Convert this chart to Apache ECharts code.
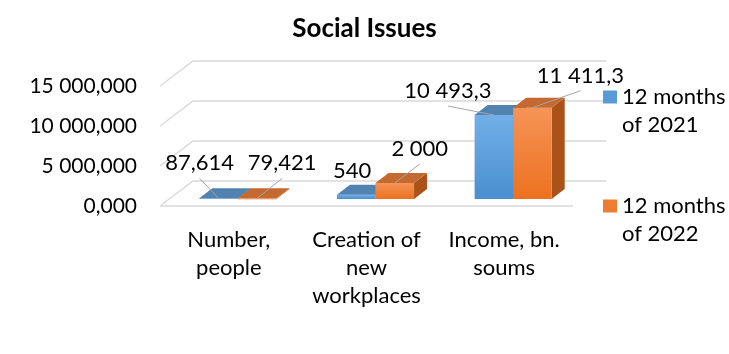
<!DOCTYPE html>
<html><head><meta charset="utf-8">
<script src="https://cdn.jsdelivr.net/npm/echarts@6/dist/echarts.min.js"></script>
<style>html,body{margin:0;padding:0;background:#fff}#c{width:729px;height:354px}</style>
</head><body><div id="c"></div>
<script>
// ---- data ----
const categories = ['Number,\npeople', 'Creation of\nnew\nworkplaces', 'Income, bn.\nsoums'];
const seriesNames = ['12 months of 2021', '12 months of 2022'];
const values2021 = [87.614, 540, 10493.3];
const values2022 = [79.421, 2000, 11411.3];
const yTicks = [0, 5000, 10000, 15000];
const yTickLabels = ['0,000', '5 000,000', '10 000,000', '15 000,000'];

// ---- style / geometry ----
const FONT = 'Lato';
const FS = 22;
const WALL = [33, -25];   // floor depth (px)
const PLANE = [9, -7];    // bar front plane offset from floor front edge
const DEPTH = [13, -10];  // bar depth
const BAR_FRAC = 0.28;
const labelOffsets = [[[-19,-35],[-4,-24],[-46,-24]], [[25,-35],[25,-34],[48,-32]]];
const colors = [
  {front: ['#72afe7', '#4a8fd0'], top: '#5282b0', side: '#3f6f9e', legend: '#5b9bd5'},
  {front: ['#f69457', '#ec711f'], top: '#c4692f', side: '#aa5218', legend: '#ed7d31'}
];

function fmtNum(v) {
  const parts = String(v).split('.');
  const ip = parts[0].replace(/\B(?=(\d{3})+(?!\d))/g, ' ');
  return parts.length > 1 ? ip + ',' + parts[1] : ip;
}

function barRenderer(si) {
  return function (params, api) {
    const cat = api.value(0), v = api.value(1);
    const base = api.coord([cat, 0]);
    const topP = api.coord([cat, v]);
    const cw = api.size([1, 0])[0];
    const bw = cw * BAR_FRAC;
    const cx = base[0] + PLANE[0];
    const xl = si === 0 ? cx - bw : cx;
    const xr = xl + bw;
    const yb = base[1] + PLANE[1];
    const yt = topP[1] + PLANE[1];
    const c = colors[si];
    const children = [
      {type: 'polygon', shape: {points: [[xr, yt], [xr + DEPTH[0], yt + DEPTH[1]], [xr + DEPTH[0], yb + DEPTH[1]], [xr, yb]]},
        style: {fill: c.side}},
      {type: 'rect', shape: {x: xl, y: yt, width: bw, height: Math.max(yb - yt, 0.8)},
        style: {fill: new echarts.graphic.LinearGradient(0, 0, 0, 1, [{offset: 0, color: c.front[0]}, {offset: 1, color: c.front[1]}])}},
      {type: 'polygon', shape: {points: [[xl, yt], [xr, yt], [xr + DEPTH[0], yt + DEPTH[1]], [xl + DEPTH[0], yt + DEPTH[1]]]},
        style: {fill: c.top}}
    ];
    const off = labelOffsets[si][params.dataIndex];
    const fx = (xl + xr) / 2;
    const lx = fx + off[0], ly = yt + off[1];
    const sx = lx, sy = ly + 15;
    if (Math.hypot(fx - sx, yt - sy) > 14) {
      children.push({type: 'line', shape: {x1: sx, y1: sy, x2: fx, y2: yt}, style: {stroke: '#a6a6a6', lineWidth: 1}, z2: 10});
    }
    children.push({type: 'text', z2: 20, style: {text: fmtNum(v), x: lx, y: ly, align: 'center', verticalAlign: 'middle',
      fill: '#000', font: FS + 'px ' + FONT}});
    return {type: 'group', children: children};
  };
}

function gridRenderer(params, api) {
  const cs = params.coordSys;
  const val = api.value(1);
  const y = api.coord([0, val])[1];
  const x0 = cs.x, x1 = cs.x + cs.width;
  const children = [{type: 'polyline', shape: {points: [[x0, y], [x0 + WALL[0], y + WALL[1]], [x1 + WALL[0], y + WALL[1]]]},
    style: {stroke: '#d9d9d9', lineWidth: 1.3, fill: null}}];
  if (val === 0) {
    children.push({type: 'line', shape: {x1: x0, y1: y, x2: x1, y2: y}, style: {stroke: '#d9d9d9', lineWidth: 1.3}});
  }
  return {type: 'group', children: children};
}

const chart = echarts.init(document.getElementById('c'));
chart.setOption({
  backgroundColor: '#fff',
  animation: false,
  title: {text: 'Social Issues', left: 'center', top: 11,
    textStyle: {fontFamily: FONT, fontSize: 26, fontWeight: 'bold', color: '#000'}},
  legend: {
    orient: 'vertical', left: 598, top: 50, itemGap: 25, itemWidth: 14, itemHeight: 13, icon: 'rect',
    data: seriesNames,
    formatter: n => ' \n' + n.replace(' of', '\nof'),
    textStyle: {fontFamily: FONT, fontSize: FS, lineHeight: 28, color: '#000'}
  },
  grid: {left: 160, right: 156, top: 86, bottom: 148},
  xAxis: {
    type: 'category', data: categories,
    axisLine: {show: false}, axisTick: {show: false},
    axisLabel: {interval: 0, margin: 20, fontFamily: FONT, fontSize: FS, lineHeight: 28, color: '#000'}
  },
  yAxis: {
    type: 'value', min: 0, max: 15000, interval: 5000,
    axisLine: {show: false}, axisTick: {show: false}, splitLine: {show: false},
    axisLabel: {margin: 23, fontFamily: FONT, fontSize: 21, color: '#000',
      formatter: v => yTickLabels[yTicks.indexOf(v)]}
  },
  series: [
    {type: 'custom', name: 'grid', silent: true, renderItem: gridRenderer, data: yTicks.map(v => [0, v]), z: 1},
    {type: 'custom', name: seriesNames[0], renderItem: barRenderer(0), itemStyle: {color: colors[0].legend},
      data: values2021.map((v, i) => [i, v]), encode: {x: 0, y: 1}, z: 2},
    {type: 'custom', name: seriesNames[1], renderItem: barRenderer(1), itemStyle: {color: colors[1].legend},
      data: values2022.map((v, i) => [i, v]), encode: {x: 0, y: 1}, z: 3}
  ]
});
</script>
</body></html>
